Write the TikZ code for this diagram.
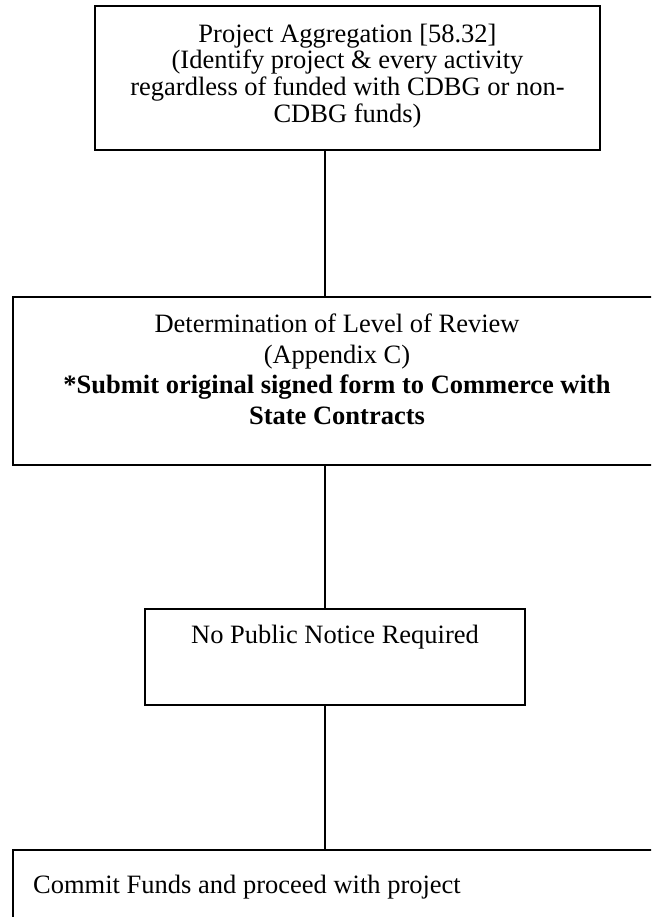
\documentclass[tikz,border=0pt]{standalone}
\usepackage{fontspec}
\setmainfont{Liberation Serif}
\tikzset{
  box/.style = {draw, rectangle, line width=#1,
                inner sep=0pt, outer sep=0pt},
  box/.default = 1.8pt,
  boxtext/.style = {inner sep=0pt, align=center,
                    font=\fontsize{26.5}{#1}\selectfont},
  boxtext/.default = 26.7,
  wire/.style = {line width=1.8pt}
}

\begin{document}
\begin{tikzpicture}[x=1pt, y=-1pt]
	\def \spine{325}

	\useasboundingbox (0,0) rectangle (651,917);
	\clip (0,0) rectangle (651,917);
	\coordinate (spine) at (\spine,0);

	% Boxes
	\node[box, minimum width=505pt, minimum height=144pt] (agg)    at (347.5,78) {};
	\node[box, minimum width=648pt, minimum height=168pt] (review) at (337,381) {};
	\node[box, minimum width=380pt, minimum height=96pt]  (notice) at (335,657) {};
	\node[box, minimum width=648pt, minimum height=110pt] (commit) at (337,905) {};

	% Texts
	\node[boxtext, anchor=north] (aggtext) at ([yshift=-17.5pt]agg.north)
		{Project Aggregation [58.32]\\(Identify project \& every activity\\
		 regardless of funded with CDBG or non-\\CDBG funds)};
	\node[boxtext=30.5, anchor=north] (reviewtext) at ([yshift=-17pt]review.north)
		{Determination of Level of Review\\(Appendix C)\\
		 \textbf{*Submit original signed form to Commerce with}\\\textbf{State Contracts}};
	\node[boxtext, anchor=north] (noticetext) at ([yshift=-16pt]notice.north)
		{No Public Notice Required};
	\node[boxtext, anchor=north west] (committext) at ([xshift=20pt, yshift=-25pt]commit.north west)
		{Commit Funds and proceed with project};

	% Connectors
	\draw[wire] (agg.south -| spine)    -- (review.north -| spine);
	\draw[wire] (review.south -| spine) -- (notice.north -| spine);
	\draw[wire] (notice.south -| spine) -- (commit.north -| spine);
\end{tikzpicture}
\end{document}
